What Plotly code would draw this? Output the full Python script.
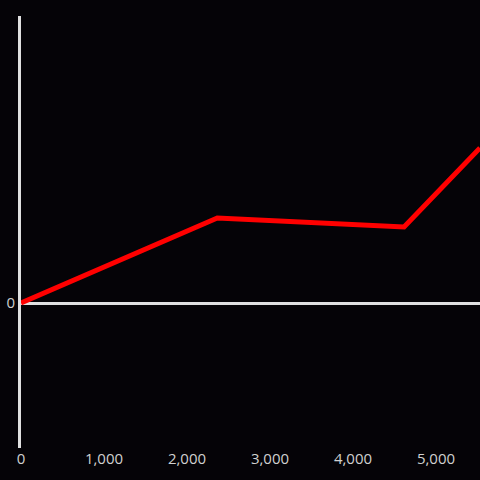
import plotly.graph_objects as go

BG = "#050307"
AXIS = "#e0e0e0"
TEXT = "#d0d0d0"
RED = "#ff0000"

x_vals = [0, 2365, 4615, 5530]
y_vals = [0, 85, 76, 155]

fig = go.Figure(go.Scatter(
    x=x_vals, y=y_vals, mode="lines",
    line=dict(color=RED, width=5),
    hoverinfo="skip",
))

fig.update_layout(
    width=480, height=480,
    paper_bgcolor=BG, plot_bgcolor=BG,
    font=dict(family="Open Sans, sans-serif", color=TEXT, size=15),
    margin=dict(l=21, r=0, t=16, b=32),
    showlegend=False,
    xaxis=dict(range=[0, 5530], dtick=1000, tickformat=",", showgrid=False,
               zeroline=False, showline=False, ticks=""),
    yaxis=dict(range=[-145, 287], tickvals=[0], showgrid=False,
               zeroline=True, zerolinecolor=AXIS, zerolinewidth=3,
               showline=True, linecolor=AXIS, linewidth=3, ticks=""),
)

fig.write_html("out.html", config={"displayModeBar": False},
               post_script="document.body.style.margin='0';")
